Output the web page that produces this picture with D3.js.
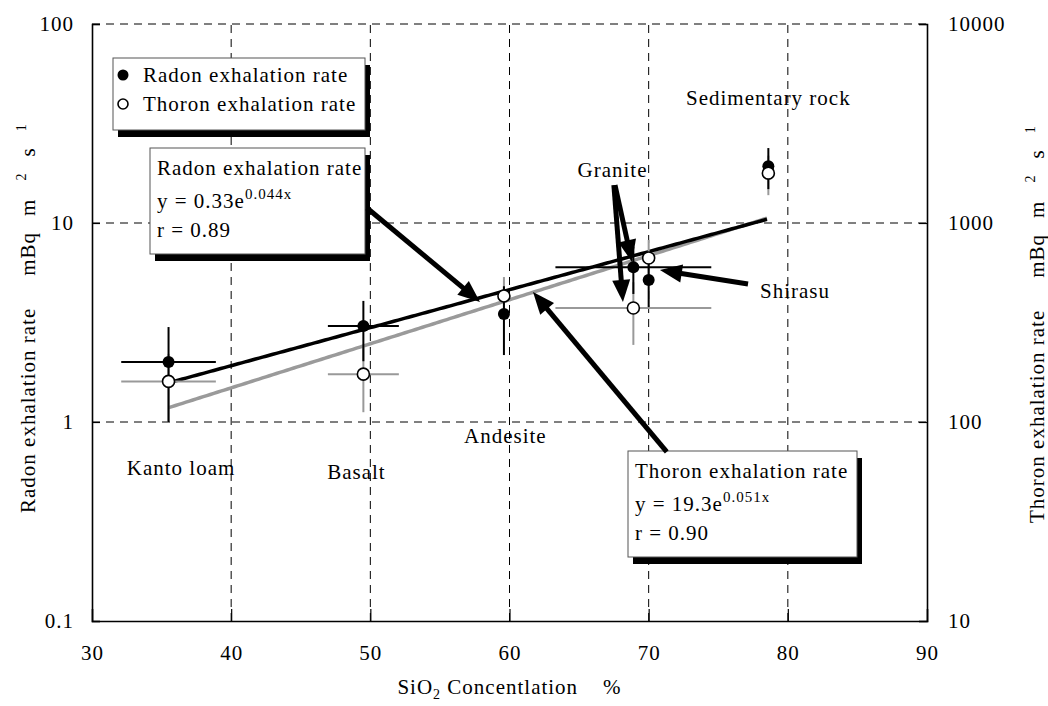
<!DOCTYPE html>
<html>
<head>
<meta charset="utf-8">
<script src="https://cdn.jsdelivr.net/npm/d3@7"></script>
<style>
  body { margin: 0; background: #fff; }
  text { font-family: 'Liberation Serif', 'Times New Roman', serif; font-size: 21px; letter-spacing: 1px; fill: #000; }
</style>
</head>
<body>
<div id="chart"></div>
<script>
const rocks = ["Kanto loam", "Basalt", "Andesite", "Granite", "Shirasu", "Sedimentary rock"];
const sio2 = [35.5, 49.5, 59.6, 68.9, 70.0, 78.6];
const sio2Err = [3.4, 2.55, 0, 5.6, 0, 0];
const radon = [2.0, 3.04, 3.49, 6.0, 5.17, 19.3];      // mBq m-2 s-1
const radonErr = [1.0, 1.02, 1.32, 1.6, 1.39, 4.5];
const thoron = [160, 174, 430, 374, 667, 1780];        // mBq m-2 s-1
const thoronErr = [60, 62, 105, 130, 155, 400];

// fitted curves printed on the chart: y = a e^(b x)
const radonFit = {a: 0.33, b: 0.044, r: "0.89"};
const thoronFit = {a: 19.3, b: 0.051, r: "0.90"};
const fitRange = [35.5, 78.6];

const xTicks = [30, 40, 50, 60, 70, 80, 90];
const yLeftTicks = [0.1, 1, 10, 100];
const yRightTicks = [10, 100, 1000, 10000];

// label positions in data units (x = SiO2 %, y = radon scale)
const rockLabels = [
  {text: "Kanto loam", x: 36.4, y: 0.54, anchor: "middle"},
  {text: "Basalt", x: 49.0, y: 0.517, anchor: "middle"},
  {text: "Andesite", x: 59.7, y: 0.785, anchor: "middle"},
  {text: "Granite", x: 67.4, y: 17.0, anchor: "middle"},
  {text: "Shirasu", x: 78.0, y: 4.2, anchor: "start"},
  {text: "Sedimentary rock", x: 78.6, y: 39.2, anchor: "middle"}
];
const arrows = [
  {from: [49.76, 11.9], to: [57.88, 4.01]},
  {from: [71.3, 0.707], to: [61.69, 4.50]},
  {from: [67.58, 15.5], to: [68.8, 6.37]},
  {from: [67.5, 15.5], to: [68.15, 4.01]},
  {from: [77.14, 4.94], to: [70.81, 5.8]}
];

const width = 1048, height = 706;
const margin = {top: 24, left: 92, bottom: 85, right: 121};

const svg = d3.select("#chart").append("svg")
    .attr("width", width)
    .attr("height", height);

const x = d3.scaleLinear().domain([30, 90]).range([margin.left, width - margin.right]);
const yL = d3.scaleLog().domain([0.1, 100]).range([height - margin.bottom, margin.top]);
const yR = d3.scaleLog().domain([10, 10000]).range([height - margin.bottom, margin.top]);

// gridlines
const grid = svg.append("g").attr("stroke", "#000").attr("stroke-width", 1).attr("stroke-dasharray", "8,6");
grid.selectAll(".vg").data(xTicks.slice(1, -1)).join("line")
    .attr("x1", d => x(d)).attr("x2", d => x(d))
    .attr("y1", yL.range()[0]).attr("y2", yL.range()[1]);
grid.selectAll(".hg").data(yLeftTicks.slice(1)).join("line")
    .attr("x1", x.range()[0]).attr("x2", x.range()[1])
    .attr("y1", d => yL(d)).attr("y2", d => yL(d));

// axes
const xAxis = svg.append("g")
    .attr("transform", "translate(0," + yL.range()[0] + ")")
    .call(d3.axisBottom(x).tickValues(xTicks).tickSize(-12).tickPadding(24).tickFormat(d3.format("d")));
const yAxisL = svg.append("g")
    .attr("transform", "translate(" + x.range()[0] + ",0)")
    .call(d3.axisLeft(yL).tickValues(yLeftTicks).tickSize(-8).tickPadding(18).tickFormat(d => String(d)));
const yAxisR = svg.append("g")
    .attr("transform", "translate(" + x.range()[1] + ",0)")
    .call(d3.axisRight(yR).tickValues(yRightTicks).tickSize(-8).tickPadding(21).tickFormat(d => String(d)));
[xAxis, yAxisL, yAxisR].forEach(a => {
  a.attr("font-family", null).attr("font-size", null);
  a.select(".domain").attr("stroke", "#000").attr("stroke-width", 1.6);
  a.selectAll(".tick line").attr("stroke", "#000").attr("stroke-width", 1.2);
});
xAxis.selectAll(".tick line").filter(d => d === 30 || d === 90).remove();

// trend lines (gray thoron under black radon)
const fitX = d3.range(fitRange[0], fitRange[1] + 0.01, 0.25);
const radonLine = d3.line().x(d => x(d)).y(d => yL(radonFit.a * Math.exp(radonFit.b * d)));
const thoronLine = d3.line().x(d => x(d)).y(d => yR(thoronFit.a * Math.exp(thoronFit.b * d)));
svg.append("path").datum(fitX).attr("d", thoronLine)
    .attr("fill", "none").attr("stroke", "#9a9a9a").attr("stroke-width", 3.5);
svg.append("path").datum(fitX).attr("d", radonLine)
    .attr("fill", "none").attr("stroke", "#000").attr("stroke-width", 3.5);

// error bars
const idx = d3.range(rocks.length);
const eb = svg.append("g").attr("stroke-width", 2);
// thoron (gray)
eb.selectAll(".tv").data(idx).join("line")
    .attr("stroke", "#999")
    .attr("x1", i => x(sio2[i])).attr("x2", i => x(sio2[i]))
    .attr("y1", i => yR(thoron[i] - thoronErr[i])).attr("y2", i => yR(thoron[i] + thoronErr[i]));
eb.selectAll(".th").data(idx.filter(i => sio2Err[i] > 0)).join("line")
    .attr("stroke", "#999")
    .attr("x1", i => x(sio2[i] - sio2Err[i])).attr("x2", i => x(sio2[i] + sio2Err[i]))
    .attr("y1", i => yR(thoron[i])).attr("y2", i => yR(thoron[i]));
// radon (black)
eb.selectAll(".rv").data(idx).join("line")
    .attr("stroke", "#000")
    .attr("x1", i => x(sio2[i])).attr("x2", i => x(sio2[i]))
    .attr("y1", i => yL(radon[i] - radonErr[i])).attr("y2", i => yL(radon[i] + radonErr[i]));
eb.selectAll(".rh").data(idx.filter(i => sio2Err[i] > 0)).join("line")
    .attr("stroke", "#000")
    .attr("x1", i => x(sio2[i] - sio2Err[i])).attr("x2", i => x(sio2[i] + sio2Err[i]))
    .attr("y1", i => yL(radon[i])).attr("y2", i => yL(radon[i]));

// markers
svg.append("g").selectAll("circle").data(idx).join("circle")
    .attr("cx", i => x(sio2[i])).attr("cy", i => yL(radon[i])).attr("r", 6).attr("fill", "#000");
svg.append("g").selectAll("circle").data(idx).join("circle")
    .attr("cx", i => x(sio2[i])).attr("cy", i => yR(thoron[i])).attr("r", 6)
    .attr("fill", "#fff").attr("stroke", "#000").attr("stroke-width", 1.6);

// rock labels
svg.append("g").selectAll("text").data(rockLabels).join("text")
    .attr("x", d => x(d.x)).attr("y", d => yL(d.y))
    .attr("text-anchor", d => d.anchor)
    .text(d => d.text);

// boxes with drop shadow
function box(x0, y0, w, h) {
  svg.append("rect").attr("x", x0 + 5).attr("y", y0 + 7).attr("width", w).attr("height", h).attr("fill", "#000");
  svg.append("rect").attr("x", x0).attr("y", y0).attr("width", w).attr("height", h)
      .attr("fill", "#fff").attr("stroke", "#555").attr("stroke-width", 1);
}

// legend
box(113, 58, 252, 72);
svg.append("circle").attr("cx", 123).attr("cy", 75).attr("r", 5.5).attr("fill", "#000");
svg.append("circle").attr("cx", 123).attr("cy", 104).attr("r", 5).attr("fill", "#fff").attr("stroke", "#000").attr("stroke-width", 1.6);
svg.append("text").attr("x", 143).attr("y", 82).text("Radon exhalation rate");
svg.append("text").attr("x", 143).attr("y", 111).text("Thoron exhalation rate");

// equation boxes
function eqBox(x0, y0, w, h, title, fit) {
  box(x0, y0, w, h);
  svg.append("text").attr("x", x0 + 7).attr("y", y0 + 27).text(title);
  const eq = svg.append("text").attr("x", x0 + 7).attr("y", y0 + 60);
  eq.append("tspan").text("y = " + fit.a + "e");
  eq.append("tspan").attr("dy", -9).style("font-size", "15px").text(d3.format(".3f")(fit.b) + "x");
  svg.append("text").attr("x", x0 + 7).attr("y", y0 + 89).text("r = " + fit.r);
}
eqBox(150, 148, 215, 106, "Radon exhalation rate", radonFit);
eqBox(628, 451, 229, 106, "Thoron exhalation rate", thoronFit);

// arrows
const ag = svg.append("g");
arrows.forEach(a => {
  const x1 = x(a.from[0]), y1 = yL(a.from[1]), x2 = x(a.to[0]), y2 = yL(a.to[1]);
  const ang = Math.atan2(y2 - y1, x2 - x1);
  const L = 22, hw = 9;
  const bx = x2 - L * Math.cos(ang), by = y2 - L * Math.sin(ang);
  ag.append("line").attr("x1", x1).attr("y1", y1).attr("x2", bx + 2 * Math.cos(ang)).attr("y2", by + 2 * Math.sin(ang))
      .attr("stroke", "#000").attr("stroke-width", 5);
  const px = -Math.sin(ang) * hw, py = Math.cos(ang) * hw;
  ag.append("path")
      .attr("d", "M" + x2 + "," + y2 + "L" + (bx + px) + "," + (by + py) + "L" + (bx - px) + "," + (by - py) + "Z")
      .attr("fill", "#000");
});

// axis titles
const xt = svg.append("text").attr("x", (x.range()[0] + x.range()[1]) / 2).attr("y", 694).attr("text-anchor", "middle");
xt.append("tspan").text("SiO");
xt.append("tspan").attr("dy", 5).style("font-size", "14px").text("2");
xt.append("tspan").attr("dy", -5).text(" Concentlation\u00a0\u00a0\u00a0\u00a0%");

function yTitle(tx, ty, label) {
  const t = svg.append("text").attr("transform", "translate(" + tx + "," + ty + ") rotate(-90)");
  t.append("tspan").text(label);
  t.append("tspan").attr("dx", 32).text("mBq");
  t.append("tspan").attr("dx", 16).text("m");
  t.append("tspan").attr("dx", 18).attr("dy", -9).style("font-size", "14px").text("2");
  t.append("tspan").attr("dx", 16).attr("dy", 9).text("s");
  t.append("tspan").attr("dx", 16).attr("dy", -9).style("font-size", "14px").text("1");
}
yTitle(35, 513, "Radon exhalation rate");
yTitle(1044, 523, "Thoron exhalation rate");
</script>
</body>
</html>
